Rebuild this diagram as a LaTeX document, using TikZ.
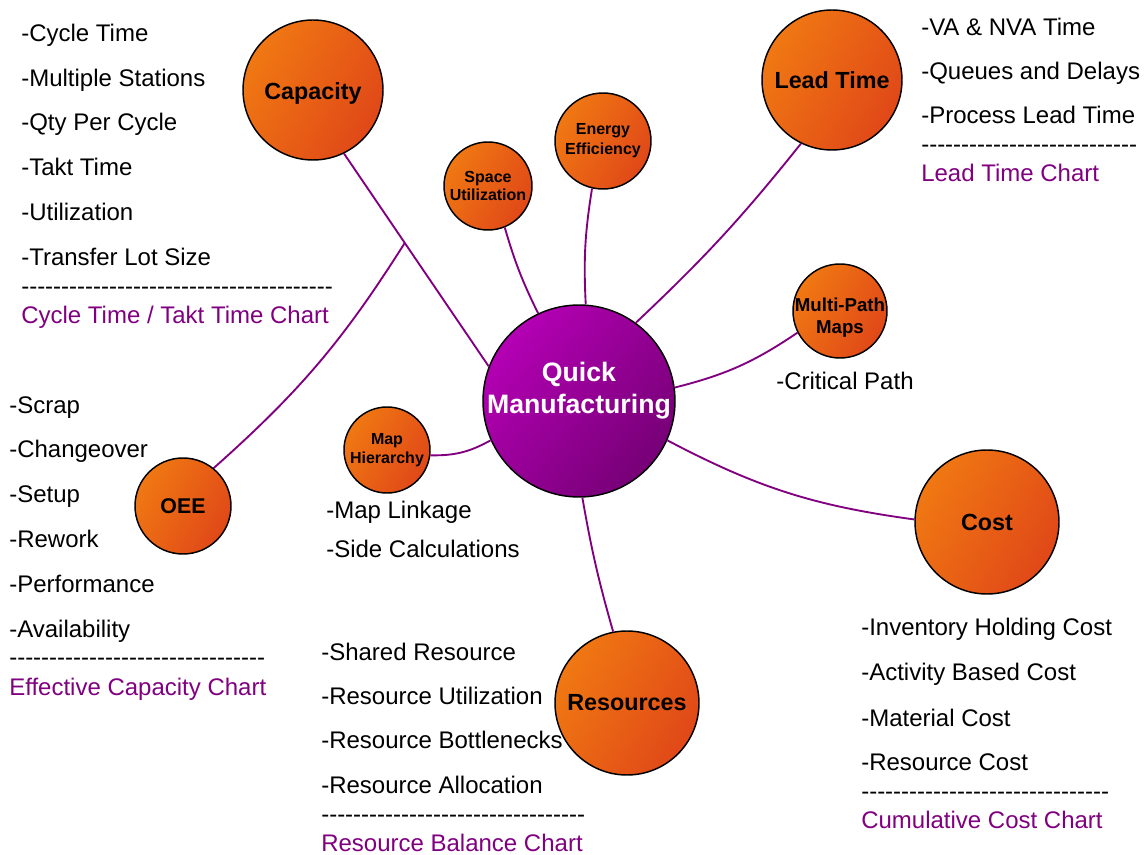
\documentclass[tikz,border=0pt]{standalone}
\usepackage{fontspec}
\setmainfont{Liberation Sans}
\usetikzlibrary{calc}
\definecolor{conn}{RGB}{128,0,128}
\definecolor{orA}{RGB}{240,120,18}
\definecolor{orB}{RGB}{224,72,24}
\definecolor{puA}{RGB}{180,0,180}
\definecolor{puB}{RGB}{118,0,118}
\newcommand\dashrow[1]{\foreach \i in {1,...,#1}{\mbox{-}}}
\begin{document}
\begin{tikzpicture}[x=0.75pt,y=-0.75pt,
  bub/.style={circle,draw=black,line width=1.1pt,inner sep=0pt,align=center,
    top color=orA,bottom color=orB,shading angle=60},
  bigbub/.style={bub,minimum size=#1,font=\fontsize{17.5}{21}\selectfont\bfseries},
  smallbub/.style={bub,minimum size=#1,font=\fontsize{12}{14}\selectfont\bfseries},
  hub/.style={circle,draw=black,line width=1.1pt,inner sep=0pt,
    minimum size=144pt,top color=puA,bottom color=puB,shading angle=50},
  lbl/.style={inner sep=0pt,align=center},
  lst/.style={anchor=base west,inner sep=0pt,font=\fontsize{18}{21}\selectfont},
  chart/.style={lst,text=conn},
  link/.style={draw=conn,line width=1.4pt}
]
\useasboundingbox (0,0) rectangle (1147,855);

% bubbles
\node[hub] (qm) at (579,401) {};
\node[lbl,text=white,font=\fontsize{20}{24}\selectfont\bfseries] (qmt) at (579,391) {Quick\\Manufacturing};
\node[bigbub=105pt] (cap) at (313,90) {};
\node[lbl,font=\fontsize{17.5}{21}\selectfont\bfseries] (capt) at (313,93) {Capacity};
\node[bigbub=105pt] (lead) at (832,80) {Lead Time};
\node[bigbub=108pt] (cost) at (987,522) {Cost};
\node[bigbub=108pt] (res) at (627,703) {Resources};
\node[bub,minimum size=72pt,font=\fontsize{16}{19}\selectfont\bfseries] (oee) at (183,506) {OEE};
\node[smallbub=66pt] (space) at (488,186) {Space\\Utilization};
\node[smallbub=72pt,font=\fontsize{12}{15}\selectfont\bfseries] (energy) at (603,141) {Energy\\Efficiency};
\node[bub,minimum size=70.5pt] (mpm) at (840,311) {};
\node[lbl,font=\fontsize{14}{16.5}\selectfont\bfseries] (mpmt) at (840,318) {Multi-Path\\Maps};
\node[smallbub=64.5pt] (maph) at (387,450) {Map\\Hierarchy};

% connectors
\draw[link] (cap.-64) -- coordinate[pos=0.42] (br) (qm.159);
\draw[link] (oee.51) to[bend right=8] (br);
\draw[link] (space.-68) to[bend right=5] (qm.115);
\draw[link] (energy.-103) to[bend right=6] (qm.86);
\draw[link] (lead.-116) to[bend left=4] (qm.54);
\draw[link] (mpm.-153) to[bend left=10] (qm.8);
\draw[link] (maph.-7) to[bend right=15] (qm.-156);
\draw[link] (cost.178) to[bend left=10] (qm.-24);
\draw[link] (res.101) to[bend left=3] (qm.-88);

% Capacity list
\node[lst] (c1) at (21,42) {-Cycle Time};
\node[lst] (c2) at (21,87) {-Multiple Stations};
\node[lst] (c3) at (21,131) {-Qty Per Cycle};
\node[lst] (c4) at (21,176) {-Takt Time};
\node[lst] (c5) at (21,221) {-Utilization};
\node[lst] (c6) at (21,266) {-Transfer Lot Size};
\node[lst] (cd) at (21,295) {\dashrow{39}};
\node[chart] (cc) at (21,324) {Cycle Time / Takt Time Chart};

% Lead Time list
\node[lst] (l1) at (921,36) {-VA \& NVA Time};
\node[lst] (l2) at (921,80) {-Queues and Delays};
\node[lst] (l3) at (921,124) {-Process Lead Time};
\node[lst] (ld) at (921,153) {\dashrow{27}};
\node[chart] (lc) at (921,182) {Lead Time Chart};

% Multi-path
\node[lst] (m1) at (776,390) {-Critical Path};

% OEE list
\node[lst] (o1) at (9,414) {-Scrap};
\node[lst] (o2) at (9,458) {-Changeover};
\node[lst] (o3) at (9,503) {-Setup};
\node[lst] (o4) at (9,548) {-Rework};
\node[lst] (o5) at (9,593) {-Performance};
\node[lst] (o6) at (9,638) {-Availability};
\node[lst] (od) at (9,666) {\dashrow{32}};
\node[chart] (oc) at (9,695) {Effective Capacity Chart};

% Map hierarchy list
\node[lst] (h1) at (326,519) {-Map Linkage};
\node[lst] (h2) at (326,558) {-Side Calculations};

% Resources list
\node[lst] (r1) at (321,660) {-Shared Resource};
\node[lst] (r2) at (321,704) {-Resource Utilization};
\node[lst] (r3) at (321,748) {-Resource Bottlenecks};
\node[lst] (r4) at (321,793) {-Resource Allocation};
\node[lst] (rd) at (321,822) {\dashrow{33}};
\node[chart] (rc) at (321,851) {Resource Balance Chart};

% Cost list
\node[lst] (k1) at (861,636) {-Inventory Holding Cost};
\node[lst] (k2) at (861,681) {-Activity Based Cost};
\node[lst] (k3) at (861,726) {-Material Cost};
\node[lst] (k4) at (861,770) {-Resource Cost};
\node[lst] (kd) at (861,799) {\dashrow{31}};
\node[chart] (kc) at (861,828) {Cumulative Cost Chart};
\end{tikzpicture}
\end{document}
